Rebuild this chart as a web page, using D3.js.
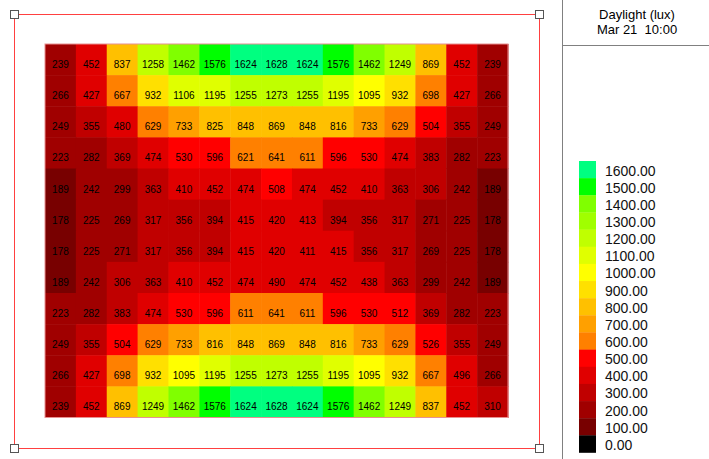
<!DOCTYPE html>
<html>
<head>
<meta charset="utf-8">
<script src="https://cdn.jsdelivr.net/npm/d3@7"></script>
<style>
  html, body { margin: 0; padding: 0; background: #fff; }
  svg { display: block; }
</style>
</head>
<body>
<svg id="chart" width="709" height="459"></svg>
<script>
// Daylight illuminance (lux) on a 15 x 12 sensor grid, Mar 21 10:00
const columns = d3.range(15);
const rows = d3.range(12);
const luxValues = [
  [239, 452, 837, 1258, 1462, 1576, 1624, 1628, 1624, 1576, 1462, 1249, 869, 452, 239],
  [266, 427, 667, 932, 1106, 1195, 1255, 1273, 1255, 1195, 1095, 932, 698, 427, 266],
  [249, 355, 480, 629, 733, 825, 848, 869, 848, 816, 733, 629, 504, 355, 249],
  [223, 282, 369, 474, 530, 596, 621, 641, 611, 596, 530, 474, 383, 282, 223],
  [189, 242, 299, 363, 410, 452, 474, 508, 474, 452, 410, 363, 306, 242, 189],
  [178, 225, 269, 317, 356, 394, 415, 420, 413, 394, 356, 317, 271, 225, 178],
  [178, 225, 271, 317, 356, 394, 415, 420, 411, 415, 356, 317, 269, 225, 178],
  [189, 242, 306, 363, 410, 452, 474, 490, 474, 452, 438, 363, 299, 242, 189],
  [223, 282, 383, 474, 530, 596, 611, 641, 611, 596, 530, 512, 369, 282, 223],
  [249, 355, 504, 629, 733, 816, 848, 869, 848, 816, 733, 629, 526, 355, 249],
  [266, 427, 698, 932, 1095, 1195, 1255, 1273, 1255, 1195, 1095, 932, 667, 496, 266],
  [239, 452, 869, 1249, 1462, 1576, 1624, 1628, 1624, 1576, 1462, 1249, 837, 452, 310]
];
const legendThresholds = [100, 200, 300, 400, 500, 600, 700, 800, 900, 1000, 1100, 1200, 1300, 1400, 1500, 1600];
const legendColors = ["#000000", "#780000", "#a00000", "#c00000", "#e00000", "#ff0000",
  "#ff8000", "#ffa000", "#ffc000", "#ffe000", "#ffff00", "#e0ff00", "#c0ff00",
  "#a0ff00", "#80ff00", "#00ff00", "#00ff80"];
const legendLabels = [0, ...legendThresholds];
const titleLines = ["Daylight (lux)", "Mar 21  10:00"];

const svg = d3.select("#chart");
const color = d3.scaleThreshold().domain(legendThresholds).range(legendColors);

const x = d3.scaleBand().domain(columns).range([45, 508]);
const y = d3.scaleBand().domain(rows).range([44, 417.5]);

// Heat-map cells
const cells = rows.flatMap(r => columns.map(c => ({ r, c, v: luxValues[r][c] })));
const grid = svg.append("g");
grid.selectAll("rect").data(cells).join("rect")
  .attr("x", d => x(d.c))
  .attr("y", d => y(d.r))
  .attr("width", x.bandwidth() + 0.5)
  .attr("height", y.bandwidth() + 0.5)
  .attr("fill", d => color(d.v));

grid.append("rect")
  .attr("x", 45).attr("y", 44)
  .attr("width", 463).attr("height", 373.5)
  .attr("fill", "none").attr("stroke", "#e89090").attr("stroke-width", 1);

grid.selectAll("text").data(cells).join("text")
  .attr("x", d => x(d.c) + x.bandwidth() / 2)
  .attr("y", d => y(d.r) + y.bandwidth() / 2 + 5)
  .attr("text-anchor", "middle")
  .attr("dominant-baseline", "central")
  .attr("font-family", "Liberation Sans, Arial, sans-serif")
  .attr("font-size", 10)
  .attr("fill", "#000")
  .text(d => d.v);

// Selection frame with corner handles
svg.append("rect")
  .attr("x", 14.5).attr("y", 14.5)
  .attr("width", 525).attr("height", 434)
  .attr("fill", "none").attr("stroke", "#ff4040").attr("stroke-width", 1);

const corners = [[14, 14], [539, 14], [14, 448], [539, 448]];
svg.selectAll("rect.handle").data(corners).join("rect")
  .attr("class", "handle")
  .attr("x", d => d[0] - 4 + 0.5).attr("y", d => d[1] - 4 + 0.5)
  .attr("width", 8).attr("height", 8)
  .attr("fill", "#fff").attr("stroke", "#555").attr("stroke-width", 1);

// Legend panel
svg.append("line")
  .attr("x1", 562.5).attr("x2", 562.5).attr("y1", 0).attr("y2", 459)
  .attr("stroke", "#808080");
svg.append("line")
  .attr("x1", 562).attr("x2", 709).attr("y1", 45.5).attr("y2", 45.5)
  .attr("stroke", "#808080");

svg.append("g").selectAll("text").data(titleLines).join("text")
  .attr("x", 637)
  .attr("y", (d, i) => 19 + i * 15)
  .attr("text-anchor", "middle")
  .attr("font-family", "Liberation Sans, Arial, sans-serif")
  .attr("font-size", 13)
  .attr("fill", "#000")
  .style("white-space", "pre")
  .attr("xml:space", "preserve")
  .text(d => d);

const legendItems = legendLabels.map((v, i) => ({ v, col: legendColors[i] })).reverse();
const ly = d3.scaleBand().domain(d3.range(legendItems.length)).range([161, 452.5]);
const legend = svg.append("g");
legend.selectAll("rect").data(legendItems).join("rect")
  .attr("x", 579)
  .attr("y", (d, i) => ly(i))
  .attr("width", 17)
  .attr("height", ly.bandwidth() + 0.3)
  .attr("fill", d => d.col);
legend.selectAll("text").data(legendItems).join("text")
  .attr("x", 605)
  .attr("y", (d, i) => ly(i) + ly.bandwidth() / 2 + 1)
  .attr("dominant-baseline", "central")
  .attr("font-family", "Liberation Sans, Arial, sans-serif")
  .attr("font-size", 14)
  .attr("fill", "#111")
  .text(d => d.v.toFixed(2));
</script>
</body>
</html>
